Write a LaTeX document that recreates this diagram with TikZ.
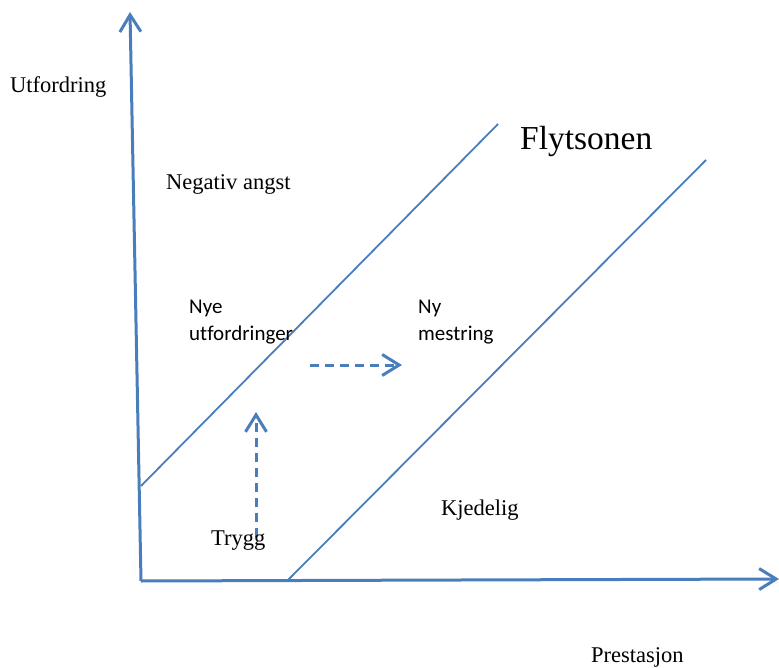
\documentclass[tikz,border=0pt]{standalone}
\usepackage{fontspec}
\setmainfont{Liberation Serif}
\newfontfamily\bodysans[Ligatures=NoCommon]{Carlito}
\usepackage{xcolor}
\usetikzlibrary{arrows.meta}
\definecolor{lineblue}{RGB}{74,126,187}

\begin{document}
\begin{tikzpicture}[x=1pt,y=-1pt,>={Straight Barb[length=17pt,width=21pt]},
  axis/.style={lineblue,line width=3pt,->},
  zoneline/.style={lineblue,line width=1.8pt},
  moveline/.style={lineblue,line width=3pt,dash pattern=on 9pt off 6pt,->},
  serif/.style={font=\fontsize{22.5}{27}\selectfont,inner sep=0pt,anchor=base west},
  sans/.style={font=\bodysans\fontsize{21}{26}\selectfont,inner sep=0pt,anchor=base west,align=left}]
\useasboundingbox (0,0) rectangle (779,668);
% axes
\coordinate (O) at (141,581);
\coordinate (ytop) at (130,12);
\coordinate (xend) at (779,579);
\draw[axis](O)--(ytop);
\draw[axis](O)--(xend);
% flow zone
\coordinate (upA) at (141,486);
\coordinate (upB) at (498,124);
\coordinate (loA) at (287,581);
\coordinate (loB) at (706,160);
\draw[zoneline](upA)--(upB);
\draw[zoneline](loA)--(loB);
% moves
\coordinate (trygg) at (256,537);
\coordinate (nye) at (256,412);
\coordinate (fra) at (310,365);
\coordinate (til) at (402,365);
\draw[moveline](trygg)--(nye);
\draw[moveline](fra)--(til);
% labels
\node[serif] (utf) at (10,93) {Utfordring};
\node[serif] (pre) at (591,662) {Prestasjon};
\node[serif,font=\fontsize{33.5}{40}\selectfont] (flyt) at (520,150) {Flytsonen};
\node[serif] (neg) at (166,190) {Negativ angst};
\node[serif] (kje) at (441,515) {Kjedelig};
\node[serif] (try) at (211,545) {Trygg};
\node[sans] (utfo) at (189,340) {Nye\\utfordringer};
\node[sans] (mes) at (418,340) {Ny\\mestring};
\end{tikzpicture}
\end{document}
